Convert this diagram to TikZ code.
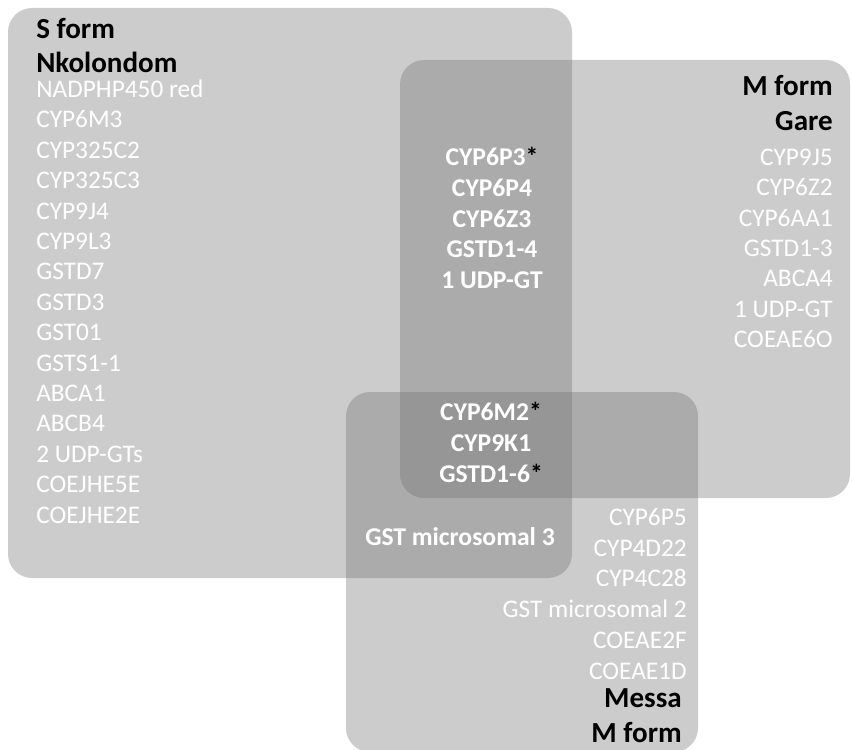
\documentclass[tikz,border=0pt]{standalone}
\usepackage{fontspec}
\setmainfont{Carlito}
\newcommand{\signif}{\textcolor{black}{*}}

\begin{document}
\begin{tikzpicture}[x=0.75pt,y=-0.75pt,
    setbox/.style={fill=black!57, fill opacity=0.35, rounded corners=18pt},
    gene/.style={text=white, inner sep=0pt, font=\fontsize{19}{22}\selectfont},
    shared/.style={gene, font=\fontsize{19.2}{22}\selectfont\bfseries},
    setname/.style={inner sep=0pt, font=\fontsize{21.8}{25}\selectfont\bfseries}]
	\useasboundingbox (0,0) rectangle (852,749);
	% the three sets
	\path[setbox] (8,8) rectangle (572,578);
	\path[setbox] (400,60) rectangle (850,498);
	\path[setbox] (346,392) rectangle (698,752);
	% S form, Nkolondom
	\node[setname, anchor=base west] (sform) at (36,39) {S form};
	\node[setname, anchor=base west] (nkolondom) at (36,73) {Nkolondom};
	\foreach \g [count=\i] in {NADPHP450 red, CYP6M3, CYP325C2, CYP325C3, CYP9J4, CYP9L3, GSTD7, GSTD3, GST01, GSTS1-1, ABCA1, ABCB4, 2 UDP-GTs, COEJHE5E, COEJHE2E}
		\node[gene, anchor=base west] (s\i) at (36,{97.5+30.4*(\i-1)}) {\g};
	% M form, Gare
	\node[setname, anchor=base east] (mformg) at (833,95) {M form};
	\node[setname, anchor=base east] (gare) at (833,130) {Gare};
	\foreach \g [count=\i] in {CYP9J5, CYP6Z2, CYP6AA1, GSTD1-3, ABCA4, 1 UDP-GT, COEAE6O}
		\node[gene, anchor=base east] (g\i) at (833,{165.5+30.3*(\i-1)}) {\g};
	% Nkolondom and Gare
	\foreach \g [count=\i] in {CYP6P3\signif, CYP6P4, CYP6Z3, GSTD1-4, 1 UDP-GT}
		\node[shared, anchor=base] (sg\i) at (492,{165.5+30.8*(\i-1)}) {\g};
	% all three
	\foreach \g [count=\i] in {CYP6M2\signif, CYP9K1, GSTD1-6\signif}
		\node[shared, anchor=base] (sgm\i) at (491,{420+31*(\i-1)}) {\g};
	% Nkolondom and Messa
	\node[shared, anchor=base] (sm1) at (460,545) {GST microsomal 3};
	% M form, Messa
	\foreach \g [count=\i] in {CYP6P5, CYP4D22, CYP4C28, GST microsomal 2, COEAE2F, COEAE1D}
		\node[gene, anchor=base east] (m\i) at (687,{525.5+30.7*(\i-1)}) {\g};
	\node[setname, anchor=base east] (messa) at (682,707) {Messa};
	\node[setname, anchor=base east] (mformm) at (682,742) {M form};
\end{tikzpicture}
\end{document}
